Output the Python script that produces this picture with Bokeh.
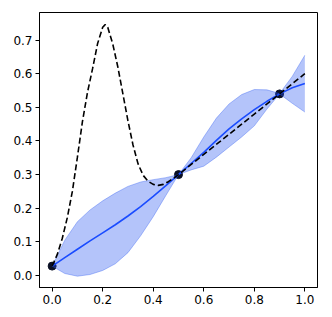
from bokeh.plotting import figure
from bokeh.models import Range1d, FixedTicker, PrintfTickFormatter, ColumnDataSource
from bokeh.embed import file_html
from bokeh.resources import INLINE

# True (objective) function, dashed
true_x = [0.00, 0.02, 0.04, 0.06, 0.08, 0.10, 0.12, 0.14, 0.16, 0.18, 0.20, 0.21, 0.22,
          0.24, 0.26, 0.28, 0.30, 0.32, 0.34, 0.36, 0.38, 0.40, 0.42, 0.44, 0.46, 0.48,
          0.50, 0.60, 0.70, 0.80, 0.90, 1.00]
true_y = [0.028, 0.062, 0.110, 0.172, 0.250, 0.352, 0.458, 0.545, 0.615, 0.690, 0.738, 0.746, 0.738,
          0.688, 0.620, 0.540, 0.460, 0.388, 0.332, 0.298, 0.280, 0.271, 0.268, 0.271, 0.279, 0.289,
          0.300, 0.360, 0.420, 0.480, 0.540, 0.600]

# GP posterior
gp_x = [0.00, 0.05, 0.10, 0.15, 0.20, 0.25, 0.30, 0.35, 0.40, 0.45, 0.50,
        0.55, 0.60, 0.65, 0.70, 0.75, 0.80, 0.85, 0.90, 0.95, 1.00]
gp_mean = [0.028, 0.053, 0.078, 0.103, 0.127, 0.151, 0.177, 0.205, 0.235, 0.267, 0.300,
           0.333, 0.366, 0.402, 0.436, 0.466, 0.493, 0.518, 0.540, 0.558, 0.571]
gp_upper = [0.028, 0.105, 0.160, 0.195, 0.222, 0.245, 0.265, 0.278, 0.285, 0.291, 0.300,
            0.350, 0.412, 0.468, 0.510, 0.538, 0.553, 0.552, 0.541, 0.592, 0.655]
gp_lower = [0.028, 0.006, -0.002, 0.003, 0.015, 0.035, 0.068, 0.118, 0.175, 0.238, 0.300,
            0.314, 0.325, 0.352, 0.382, 0.412, 0.445, 0.495, 0.540, 0.512, 0.486]

# Observations
obs_x = [0.0, 0.5, 0.9]
obs_y = [0.028, 0.300, 0.540]

x_ticks = [0.0, 0.2, 0.4, 0.6, 0.8, 1.0]
y_ticks = [0.0, 0.1, 0.2, 0.3, 0.4, 0.5, 0.6, 0.7]

p = figure(width=324, height=309, output_backend="svg", toolbar_location=None,
           x_range=Range1d(-0.05, 1.05), y_range=Range1d(-0.0356, 0.782),
           min_border_left=39, min_border_top=12, min_border_right=7, min_border_bottom=22)
p.background_fill_color = "white"
p.border_fill_color = "white"
p.outline_line_color = "black"
p.outline_line_width = 1
p.grid.visible = False

p.scatter(obs_x, obs_y, size=8, color="#0a0f24")

src = ColumnDataSource(dict(x=gp_x, lo=gp_lower, hi=gp_upper))
p.varea(x="x", y1="lo", y2="hi", source=src, fill_color="#2956f1", fill_alpha=0.35)
p.line(gp_x, gp_upper, line_color="#2956f1", line_alpha=0.35, line_width=1)
p.line(gp_x, gp_lower, line_color="#2956f1", line_alpha=0.35, line_width=1)

p.line(gp_x, gp_mean, line_color="#1a4cff", line_width=1.6)
p.line(true_x, true_y, line_color="black", line_width=1.6, line_dash="6 3")

for ax in (p.xaxis[0], p.yaxis[0]):
    ax.major_label_text_font = "DejaVu Sans"
    ax.major_label_text_font_size = "12px"
    ax.major_label_text_color = "black"
    ax.major_tick_in = 0
    ax.major_tick_out = 4
    ax.minor_tick_in = 0
    ax.minor_tick_out = 0
    ax.axis_line_color = "black"
    ax.major_tick_line_color = "black"
    ax.major_label_standoff = 3

p.xaxis[0].ticker = FixedTicker(ticks=x_ticks)
p.yaxis[0].ticker = FixedTicker(ticks=y_ticks)
p.xaxis[0].formatter = PrintfTickFormatter(format="%.1f")
p.yaxis[0].formatter = PrintfTickFormatter(format="%.1f")

open("out.html", "w").write(file_html(p, INLINE))
